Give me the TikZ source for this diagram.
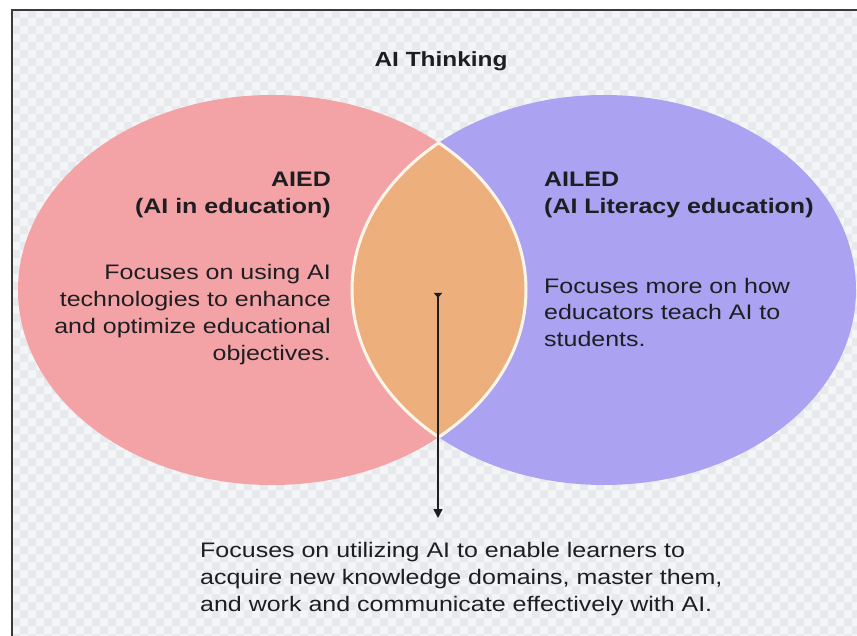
\documentclass[tikz,border=0pt]{standalone}
\usepackage{fontspec}
\setmainfont{Liberation Sans}[FakeStretch=1.19]
\usetikzlibrary{arrows.meta}

\definecolor{checklight}{HTML}{F4F5F7}
\definecolor{checkdark}{HTML}{E7E9ED}
\definecolor{aiedpink}{HTML}{F3A3A6}
\definecolor{ailedviolet}{HTML}{ABA2F2}
\definecolor{lensorange}{HTML}{EDA56A}
\definecolor{lensedge}{HTML}{FFF6EA}
\definecolor{inkdark}{HTML}{1E1E22}
\definecolor{framegray}{HTML}{3A3A3C}

% light chequered backdrop inside the frame
\newcommand\paintchecks{%
  \fill[checklight] (12,10) rectangle (860,640);
  \fill[checkdark] \foreach \a in {0,...,53} {\foreach \b in {0,...,39}
    {(12+16*\a,10+16*\b) rectangle ++(8,8) (20+16*\a,18+16*\b) rectangle ++(8,8)}};
}
\newcommand\aiedshape{(272,290) ellipse [x radius=254, y radius=195]}
\newcommand\ailedshape{(604,290) ellipse [x radius=252, y radius=195]}

\tikzset{
  label text/.style={inner sep=0pt, text=inkdark,
    font=\fontsize{21}{27}\selectfont},
  head text/.style={label text, font=\fontsize{21}{27}\selectfont\bfseries},
  pointer/.style={draw=inkdark, line width=1.6pt,
    {Triangle[reversed,length=5pt,width=8pt]}-{Triangle[length=9pt,width=9pt]}},
}

\begin{document}
\begin{tikzpicture}[x=1pt,y=-1pt]
\useasboundingbox (0,0) rectangle (857,636);
\fill[white] (0,0) rectangle (857,636);

\begin{scope}
  \clip (0,0) rectangle (857,636);
  \paintchecks
  % the two sets
  \fill[aiedpink] \aiedshape;
  \fill[ailedviolet] \ailedshape;
  % their overlap
  \begin{scope}
    \clip \aiedshape;
    \clip \ailedshape;
    \paintchecks
    \fill[lensorange, opacity=0.86] (0,0) rectangle (857,636);
  \end{scope}
  \begin{scope}
    \clip \aiedshape;
    \draw[lensedge, line width=3pt] \ailedshape;
  \end{scope}
  \begin{scope}
    \clip \ailedshape;
    \draw[lensedge, line width=3pt] \aiedshape;
  \end{scope}
  % frame
  \draw[framegray, line width=2pt] (12,700) -- (12,10) -- (900,10);
\end{scope}

% multi-line nodes are placed by the baseline of their last line
\node[head text, font=\fontsize{20.5}{27}\selectfont\bfseries, anchor=base]
  (title) at (441,67) {AI Thinking};

\node[head text, anchor=base east, align=right] (aiedhead) at (331,214)
  {AIED\\(AI in education)};
\node[label text, anchor=base east, align=right] (aiedbody) at (331,360)
  {Focuses on using AI\\technologies to enhance\\and optimize educational\\objectives.};

\node[head text, anchor=base west, align=left] (ailedhead) at (544,214)
  {AILED\\(AI Literacy education)};
\node[label text, anchor=base west, align=left] (ailedbody) at (544,347)
  {Focuses more on how\\educators teach AI to\\students.};

\node[label text, anchor=base west, align=left] (sharedbody) at (200,611)
  {Focuses on utilizing AI to enable learners to\\acquire new knowledge domains, master them,\\and work and communicate effectively with AI.};

\coordinate (lenspoint) at (438,293);
\coordinate (arrowtip) at (438,518);
\draw[pointer] (lenspoint) -- (arrowtip);
\end{tikzpicture}
\end{document}
